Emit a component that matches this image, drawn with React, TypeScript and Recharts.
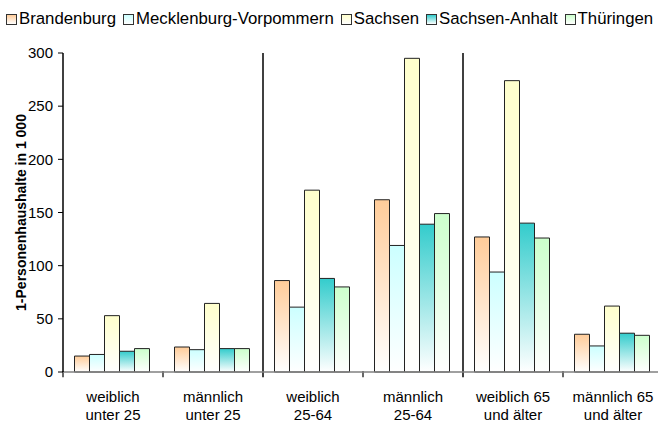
import React from 'react';
import { BarChart, Bar, XAxis, YAxis, ReferenceLine, Label } from 'recharts';

const categories = [
  'weiblich\nunter 25',
  'männlich\nunter 25',
  'weiblich\n25-64',
  'männlich\n25-64',
  'weiblich 65\nund älter',
  'männlich 65\nund älter',
];
const brandenburg = [15, 23.5, 86, 162, 127, 35.5];
const mecklenburg = [16.5, 21, 61, 119, 94, 24.5];
const sachsen = [53, 64.5, 171, 295, 274, 62];
const sachsenAnhalt = [19.5, 22, 88, 139, 140, 36.5];
const thueringen = [22, 22, 80, 149, 126, 34.5];
const yTicks = [0, 50, 100, 150, 200, 250, 300];
const boundaries = [0, 1, 3, 5];
const separators = [2, 4];

const seriesList = [
  { key: 'brandenburg', name: 'Brandenburg', color: '#FFCC99', values: brandenburg },
  { key: 'mecklenburg', name: 'Mecklenburg-Vorpommern', color: '#CCFFFF', values: mecklenburg },
  { key: 'sachsen', name: 'Sachsen', color: '#FFFFCC', values: sachsen },
  { key: 'sachsenAnhalt', name: 'Sachsen-Anhalt', color: '#33CCCC', values: sachsenAnhalt },
  { key: 'thueringen', name: 'Thüringen', color: '#CCFFCC', values: thueringen },
];

const data = categories.map((c, i) => {
  const row: any = { category: c, pos: i + 0.5 };
  seriesList.forEach((s) => { row[s.key] = s.values[i]; });
  return row;
});

const FONT = 'Liberation Sans, Arial, sans-serif';

const CatTick = (props: any) => {
  const { x, y, payload } = props;
  const lines = String(payload.value).split('\n');
  return (
    <text x={x} y={y} textAnchor="middle" fill="#000" fontSize={15} fontFamily={FONT}>
      {lines.map((l, i) => (
        <tspan key={i} x={x} dy={i === 0 ? 22 : 18}>{l}</tspan>
      ))}
    </text>
  );
};

export default function App() {
  return (
    <div style={{ position: 'absolute', left: 0, top: 0, width: 658, height: 426, overflow: 'hidden', background: '#fff' }}>
      <div style={{ position: 'absolute', left: 6, top: 9, display: 'flex', fontFamily: FONT, fontSize: 16.8, color: '#000', whiteSpace: 'nowrap', alignItems: 'center' }}>
        {seriesList.map((s) => (
          <div key={s.key} style={{ display: 'flex', alignItems: 'center', marginRight: 7 }}>
            <span style={{ display: 'inline-block', width: 9, height: 9, border: '1px solid #333', background: `linear-gradient(${s.color}, #ffffff)`, marginRight: 2 }} />
            <span>{s.name}</span>
          </div>
        ))}
      </div>
      <BarChart
        width={663}
        height={426}
        data={data}
        margin={{ top: 53, right: 0, bottom: 0, left: 0 }}
        barCategoryGap="11.5%"
        barGap={0}
      >
        <defs>
          {seriesList.map((s) => (
            <linearGradient key={s.key} id={`grad-${s.key}`} x1="0" y1="0" x2="0" y2="1">
              <stop offset="0%" stopColor={s.color} />
              <stop offset="100%" stopColor="#ffffff" />
            </linearGradient>
          ))}
        </defs>
        <XAxis
          dataKey="category"
          height={54}
          axisLine={{ stroke: '#808080', strokeWidth: 1.5 }}
          tickLine={false}
          tick={<CatTick />}
          interval={0}
        />
        <XAxis xAxisId="num" dataKey="pos" type="number" domain={[0, 6]} allowDataOverflow hide />
        <YAxis
          width={63}
          domain={[0, 300]}
          ticks={yTicks}
          interval={0}
          axisLine={{ stroke: '#000', strokeWidth: 1.5 }}
          tickLine={{ stroke: '#000' }}
          tickSize={5}
          tickMargin={5}
          tick={{ fill: '#000', fontSize: 15, fontFamily: FONT }}
        >
          <Label
            value="1-Personenhaushalte in 1 000"
            angle={-90}
            position="center"
            dx={-10}
            style={{ fontWeight: 'bold', fontSize: 14, fontFamily: FONT, fill: '#000' }}
          />
        </YAxis>
        {boundaries.map((b) => (
          <ReferenceLine
            key={`t${b}`}
            xAxisId="num"
            segment={[{ x: b, y: 1 }, { x: b, y: -5 }]}
            stroke="#000"
            strokeWidth={1.2}
            ifOverflow="visible"
          />
        ))}
        {separators.map((b) => (
          <ReferenceLine
            key={`s${b}`}
            xAxisId="num"
            segment={[{ x: b, y: 300 }, { x: b, y: -5 }]}
            stroke="#000"
            strokeWidth={1.5}
            ifOverflow="visible"
          />
        ))}
        {seriesList.map((s) => (
          <Bar
            key={s.key}
            dataKey={s.key}
            name={s.name}
            fill={`url(#grad-${s.key})`}
            stroke="#222"
            strokeWidth={1}
            isAnimationActive={false}
          />
        ))}
      </BarChart>
    </div>
  );
}
